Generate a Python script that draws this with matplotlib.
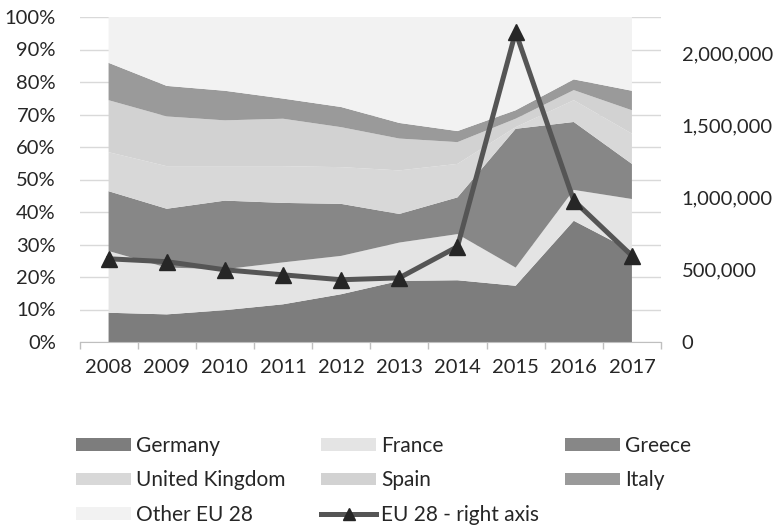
import numpy as np
import matplotlib
matplotlib.use("Agg")
import matplotlib.pyplot as plt
from matplotlib.patches import Patch
from matplotlib.lines import Line2D

plt.rcParams['font.family'] = ['Lato', 'DejaVu Sans']

years = ['2008', '2009', '2010', '2011', '2012', '2013', '2014', '2015', '2016', '2017']
germany = [9.0, 8.5, 9.8, 11.6, 14.7, 18.8, 19.0, 17.3, 37.3, 28.0]
france = [19.0, 14.4, 12.6, 12.9, 11.8, 11.8, 14.2, 5.6, 9.5, 16.0]
greece = [18.4, 18.1, 21.1, 18.3, 16.0, 8.8, 11.3, 42.7, 20.9, 10.8]
uk = [12.0, 13.1, 10.6, 11.3, 11.3, 13.4, 10.3, 0.5, 6.7, 9.3]
spain = [16.0, 15.3, 14.1, 14.6, 12.3, 9.8, 6.7, 2.6, 3.1, 7.2]
italy = [11.5, 9.4, 9.1, 6.2, 6.2, 4.8, 3.4, 2.6, 3.3, 6.0]
other = [14.1, 21.2, 22.7, 25.1, 27.7, 32.6, 35.1, 28.7, 19.2, 22.7]
eu28 = [576000, 556000, 500000, 465000, 431000, 444000, 660000, 2146000, 979000, 597000]

names = ['Germany', 'France', 'Greece', 'United Kingdom', 'Spain', 'Italy', 'Other EU 28']
colors = ['#7d7d7d', '#e4e4e4', '#878787', '#d8d8d8', '#d2d2d2', '#9a9a9a', '#f2f2f2']
text_col = '#262626'
fs = 14.5
lfs = 15

fig = plt.figure(figsize=(7.77, 5.27), dpi=100)
ax = fig.add_axes([79.5 / 777, 1 - 342 / 527, (661 - 79.5) / 777, (342 - 17) / 527])
x = np.arange(len(years))
polys = ax.stackplot(x, germany, france, greece, uk, spain, italy, other,
                     colors=colors, linewidth=0, zorder=2)
ax.set_xlim(-0.5, 9.5)
ax.set_ylim(0, 100)
ax.set_yticks(np.arange(0, 101, 10))
ax.set_yticklabels([f'{v}%' for v in range(0, 101, 10)])
ax.yaxis.grid(True, color='#d9d9d9', linewidth=1, zorder=0)
ax.set_axisbelow(True)
ax.tick_params(axis='y', length=0, pad=17, labelsize=fs, labelcolor=text_col)
ax.set_xticks(x)
ax.set_xticklabels(years)
ax.set_xticks(np.arange(-0.5, 10, 1), minor=True)
ax.tick_params(axis='x', which='major', length=0, pad=12, labelsize=fs, labelcolor=text_col)
ax.tick_params(axis='x', which='minor', length=5, color='#bfbfbf', width=1)
for s in ['top', 'left', 'right']:
    ax.spines[s].set_visible(False)
ax.spines['bottom'].set_color('#bfbfbf')

ax2 = ax.twinx()
ax2.plot(x, eu28, color='#555555', linewidth=3.6, marker='^', markersize=11,
         markerfacecolor='#262626', markeredgecolor='#262626', zorder=5)
ax2.set_ylim(0, 2250000)
ax2.set_yticks(np.arange(0, 2000001, 500000))
ax2.set_yticklabels([f'{v:,}' for v in range(0, 2000001, 500000)])
ax2.tick_params(axis='y', length=0, pad=15, labelsize=fs, labelcolor=text_col)
for s in ['top', 'left', 'right', 'bottom']:
    ax2.spines[s].set_visible(False)

line_handle = Line2D([], [], color='#555555', linewidth=3.6, marker='^', markersize=9,
                     markerfacecolor='#262626', markeredgecolor='#262626')
patch = [Patch(facecolor=c, edgecolor='none') for c in colors]
cols = [
    ([patch[0], patch[3], patch[6]], [names[0], names[3], names[6]], 76),
    ([patch[1], patch[4], line_handle], [names[1], names[4], 'EU 28 - right axis'], 321),
    ([patch[2], patch[5]], [names[2], names[5]], 565),
]
for handles, labels, xpx in cols:
    leg = fig.legend(handles, labels, loc='upper left',
                     bbox_to_anchor=(xpx / 777, 1 - 436 / 527),
                     frameon=False, fontsize=lfs, handlelength=2.64, handleheight=0.56,
                     handletextpad=0.24, labelspacing=0.69, borderpad=0, borderaxespad=0)
    for t in leg.get_texts():
        t.set_color(text_col)

fig.savefig('out.png', dpi=100)
